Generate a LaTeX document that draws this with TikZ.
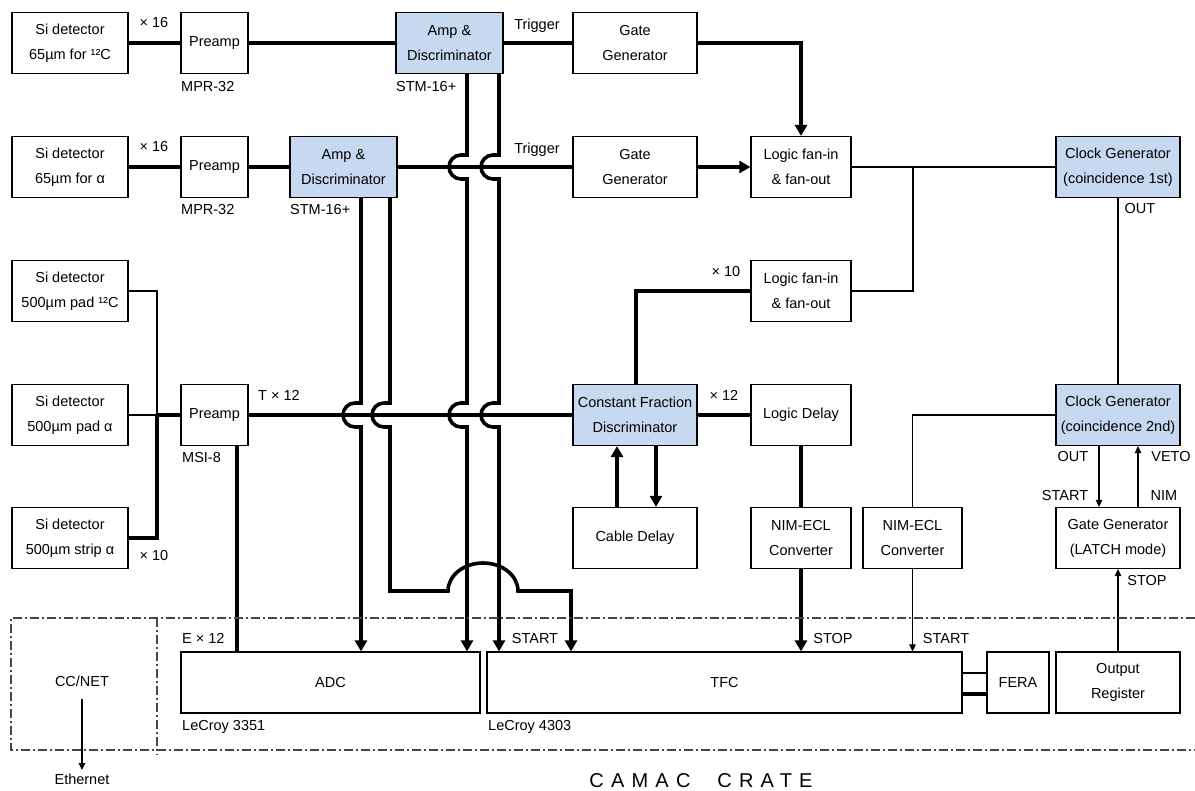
\documentclass[tikz,border=0pt]{standalone}
\usepackage{fontspec}
\setmainfont{Liberation Sans}
\newfontfamily\cratefont[LetterSpace=36]{Liberation Sans}
\usetikzlibrary{arrows.meta}
\definecolor{boxblue}{RGB}{198,217,241}
\definecolor{framegray}{RGB}{70,70,70}
% vertical line hopping left over a horizontal signal line at height #2
\newcommand\hop[2]{-- (#1,#2-12) -- (#1-6,#2-12) arc[start angle=90,end angle=270,radius=12pt] -- (#1,#2+12)}
\begin{document}
\begin{tikzpicture}[x=1pt,y=-1pt,
  font=\fontsize{14.5}{25}\selectfont,
  box/.style={draw, line width=1.2pt, inner sep=0pt, align=center, minimum height=61pt},
  hl/.style={box, fill=boxblue},
  sig/.style={line width=3.6pt},
  wire/.style={line width=1.1pt},
  bigtip/.style={-{Triangle[length=11pt,width=12pt]}},
  smalltip/.style={-{Triangle[length=7pt,width=6.5pt]}},
  lbl/.style={inner sep=0pt, text height=10.5pt, text depth=3pt},
  frame/.style={line width=1.1pt, draw=framegray, dash pattern=on 9pt off 3pt on 2pt off 3pt},
]
\useasboundingbox (0,0) rectangle (1195,791);

% ---------- detectors ----------
\node[box, minimum width=116pt] (siA) at (70,43)  {Si detector\\65µm for ¹²C};
\node[box, minimum width=116pt] (siB) at (70,167) {Si detector\\65µm for α};
\node[box, minimum width=116pt] (siC) at (70,291) {Si detector\\500µm pad ¹²C};
\node[box, minimum width=116pt] (siD) at (70,415) {Si detector\\500µm pad α};
\node[box, minimum width=116pt] (siE) at (70,538) {Si detector\\500µm strip α};

% ---------- front end ----------
\node[box, minimum width=67pt] (preA) at (214.5,43)  {Preamp};
\node[box, minimum width=67pt] (preB) at (214.5,167) {Preamp};
\node[box, minimum width=67pt] (preC) at (214.5,415) {Preamp};
\node[hl, minimum width=107pt] (ampA) at (449.5,43)  {Amp \&\\Discriminator};
\node[hl, minimum width=107pt] (ampB) at (343.5,167) {Amp \&\\Discriminator};

\node[box, minimum width=124pt] (gateA) at (635,43)  {Gate\\Generator};
\node[box, minimum width=124pt] (gateB) at (635,167) {Gate\\Generator};
\node[hl,  minimum width=124pt] (cfd)   at (635,415) {Constant Fraction\\Discriminator};
\node[box, minimum width=124pt] (cable) at (635,538) {Cable Delay};

\node[box, minimum width=100pt] (logicA) at (801,167) {Logic fan-in\\\& fan-out};
\node[box, minimum width=100pt] (logicB) at (801,291) {Logic fan-in\\\& fan-out};
\node[box, minimum width=100pt] (ldelay) at (801,415) {Logic Delay};
\node[box, minimum width=100pt] (nimA)   at (801,538) {NIM-ECL\\Converter};
\node[box, minimum width=99pt]  (nimB)   at (912.5,538) {NIM-ECL\\Converter};

\node[hl,  minimum width=124pt] (clockA) at (1118,167) {Clock Generator\\(coincidence 1st)};
\node[hl,  minimum width=124pt] (clockB) at (1118,415) {Clock Generator\\(coincidence 2nd)};
\node[box, minimum width=124pt] (gateC)  at (1118,538) {Gate Generator\\(LATCH mode)};

% ---------- CAMAC modules ----------
\node[box, minimum width=299pt] (adc)    at (330.5,682.5) {ADC};
\node[box, minimum width=475pt] (tfc)    at (724.5,682.5) {TFC};
\node[box, minimum width=62pt]  (fera)   at (1018,682.5)  {FERA};
\node[box, minimum width=124pt] (outreg) at (1118,682.5)  {Output\\Register};

\node[lbl] (ccnet) at (82,683) {CC/NET};
\node[lbl] (eth)   at (82,781) {Ethernet};

% ---------- line positions ----------
\coordinate (xMerge) at (157,0);
\coordinate (xPE) at (237,0);
\coordinate (xB1) at (361,0);
\coordinate (xB2) at (390,0);
\coordinate (xA1) at (467,0);
\coordinate (xA2) at (499,0);
\coordinate (xTs) at (571,0);
\coordinate (xCab1) at (617,0);
\coordinate (xCab2) at (656,0);
\coordinate (xLB) at (636,0);
\coordinate (xBr) at (913,0);
\coordinate (xOut) at (1099,0);
\coordinate (xVeto) at (1138,0);
\coordinate (yF1) at (0,673);
\coordinate (yF2) at (0,694);

% ---------- signal lines ----------
\draw[sig] (siA) -- (preA);
\draw[sig] (preA) -- (ampA);
\draw[sig] (ampA) -- (gateA);
\draw[sig,bigtip] (gateA.east) -| (logicA.north);

\draw[sig] (siB) -- (preB);
\draw[sig] (preB) -- (ampB);
\draw[sig] (ampB) -- (gateB);
\draw[sig,bigtip] (gateB) -- (logicA);

\draw[wire] (logicA) -- (clockA);
\draw[wire] (logicA.east -| xBr) |- (logicB.east);
\draw[wire] (clockA) -- (clockB);

\draw[sig] (logicB.west) -| (cfd.north -| xLB);

\draw[wire] (siC.east) -| (siD.east -| xMerge);
\draw[wire] (siD) -- (siD.east -| xMerge);
\draw[sig] (siE.east) -| (preC.west -| xMerge);
\draw[sig] (preC.west -| xMerge) -- (preC.west);

\draw[sig] (preC) -- (cfd);
\draw[sig] (cfd) -- (ldelay);
\draw[sig] (ldelay) -- (nimA);
\draw[sig,bigtip] (nimA) -- (tfc.north -| nimA);
\draw[sig,bigtip] (cable.north -| xCab1) -- (cfd.south -| xCab1);
\draw[sig,bigtip] (cfd.south -| xCab2) -- (cable.north -| xCab2);

\draw[wire] (clockB.west) -| (nimB.north);
\draw[wire,smalltip] (nimB) -- (tfc.north -| nimB);
\draw[wire,smalltip] (clockB.south -| xOut) -- (gateC.north -| xOut);
\draw[wire,smalltip] (gateC.north -| xVeto) -- (clockB.south -| xVeto);
\draw[wire,smalltip] (outreg) -- (gateC);

\draw[sig] (preC.south -| xPE) -- (adc.north -| xPE);

\draw[sig,bigtip] (ampB.south -| xB1) \hop{361}{415} -- (adc.north -| xB1);
\draw[sig,bigtip] (ampB.south -| xB2) \hop{390}{415} -- (390,591) -- (448,591)
   arc[start angle=180,end angle=0,x radius=35pt,y radius=28pt] -- (571,591) -- (tfc.north -| xTs);
\draw[sig,bigtip] (ampA.south -| xA1) \hop{467}{167} \hop{467}{415} -- (adc.north -| xA1);
\draw[sig,bigtip] (ampA.south -| xA2) \hop{499}{167} \hop{499}{415} -- (tfc.north -| xA2);

\draw[wire] (tfc.east |- yF1) -- (fera.west |- yF1);
\draw[sig]  (tfc.east |- yF2) -- (fera.west |- yF2);

\draw[wire,smalltip,shorten <=9pt,shorten >=4pt] (ccnet) -- (eth);

% ---------- crate outline ----------
\draw[frame] (1195,618) -- (11,618) -- (11,750) -- (1195,750);
\draw[frame] (157,618) -- (157,755);

% ---------- labels ----------
\node[lbl] at (154,24)  {× 16};
\node[lbl] at (154,148) {× 16};
\node[lbl,anchor=west] at (181,88)  {MPR-32};
\node[lbl,anchor=west] at (181,211) {MPR-32};
\node[lbl,anchor=west] at (396,88)  {STM-16+};
\node[lbl,anchor=west] at (290,211) {STM-16+};
\node[lbl] at (537,26)  {Trigger};
\node[lbl] at (537,150) {Trigger};
\node[lbl] at (726,273) {× 10};
\node[lbl] at (279,397) {T × 12};
\node[lbl,anchor=west] at (182,459) {MSI-8};
\node[lbl] at (154,557) {× 10};
\node[lbl] at (724,397) {× 12};
\node[lbl] at (1140,210) {OUT};
\node[lbl] at (1073,458) {OUT};
\node[lbl] at (1171,458) {VETO};
\node[lbl] at (1065,497) {START};
\node[lbl] at (1164,497) {NIM};
\node[lbl] at (1147,582) {STOP};
\node[lbl,anchor=west] at (182,640) {E × 12};
\node[lbl] at (535,640) {START};
\node[lbl] at (833,640) {STOP};
\node[lbl] at (946,640) {START};
\node[lbl,anchor=west] at (182,727) {LeCroy 3351};
\node[lbl,anchor=west] at (488,727) {LeCroy 4303};

\node[inner sep=0pt, anchor=base] at (701,787) {\fontsize{20}{20}\selectfont\cratefont CAMAC\hspace{27pt}CRATE};
\end{tikzpicture}
\end{document}
